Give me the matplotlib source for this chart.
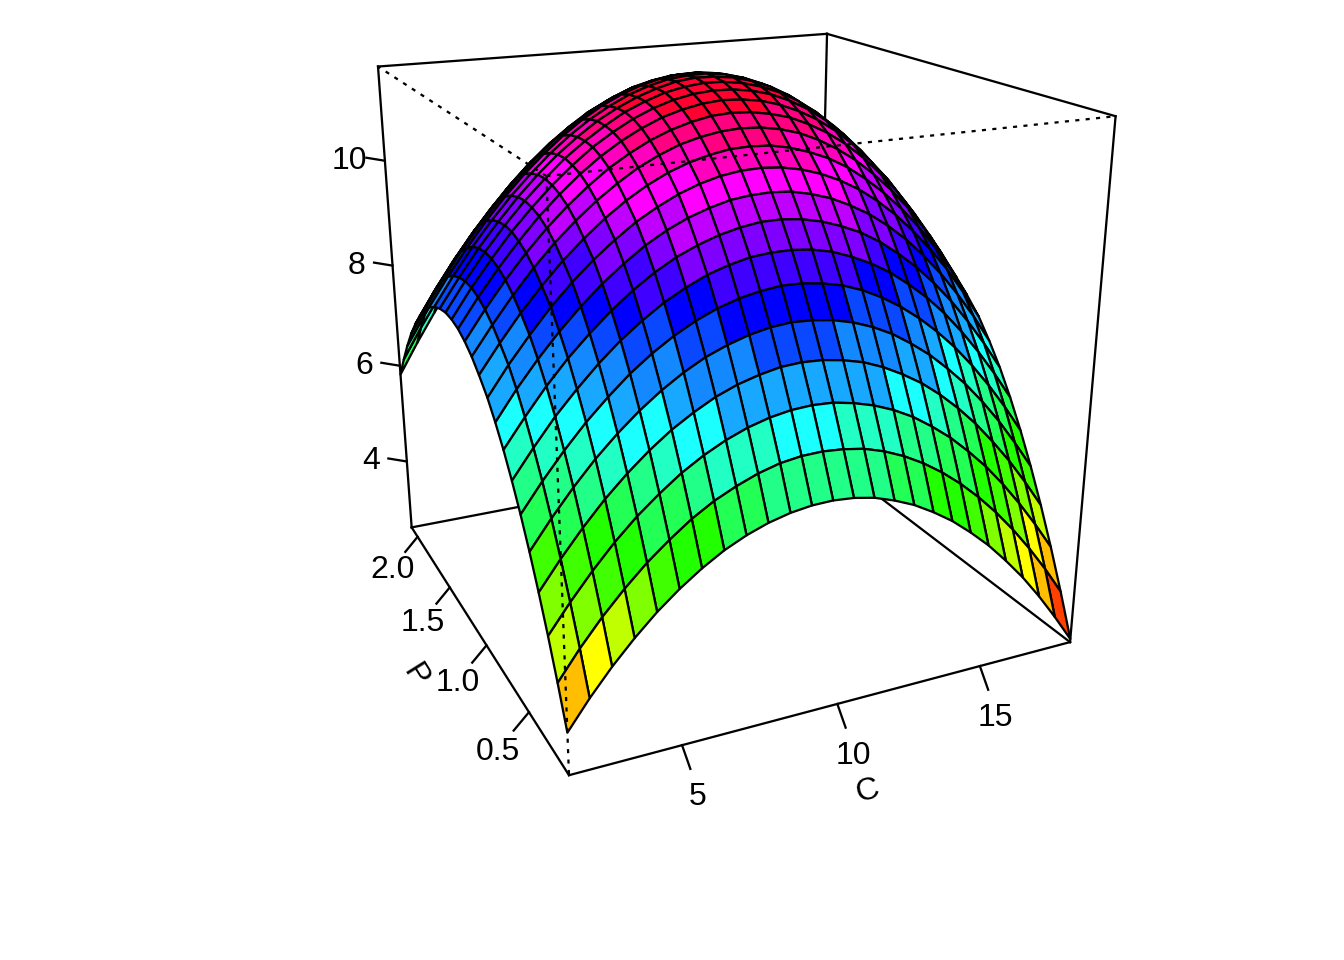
import numpy as np
import matplotlib
matplotlib.use("Agg")
import matplotlib.pyplot as plt
from matplotlib.collections import PolyCollection

plt.rcParams['font.family'] = ['Liberation Sans', 'DejaVu Sans']

C_values = [1.62, 2.29, 2.96, 3.63, 4.30, 4.97, 5.64, 6.31, 6.98, 7.65, 8.33, 9.00, 9.67,
            10.34, 11.01, 11.68, 12.35, 13.02, 13.69, 14.36, 15.03, 15.70, 16.37, 17.04, 17.71, 18.39]
P_values = [0.09, 0.17, 0.25, 0.33, 0.41, 0.49, 0.57, 0.65, 0.73, 0.81, 0.90, 0.98, 1.06,
            1.14, 1.22, 1.30, 1.38, 1.46, 1.54, 1.62, 1.70, 1.78, 1.86, 1.94, 2.02, 2.10]
# one row per C value, one column per P value
surface = [
    [3.31, 3.95, 4.55, 5.10, 5.61, 6.07, 6.48, 6.85, 7.17, 7.45, 7.69, 7.88, 8.02, 8.12, 8.17, 8.18, 8.14, 8.06, 7.94, 7.77, 7.55, 7.29, 6.99, 6.64, 6.25, 5.82],
    [3.80, 4.44, 5.03, 5.58, 6.09, 6.55, 6.96, 7.33, 7.66, 7.94, 8.17, 8.36, 8.51, 8.61, 8.67, 8.68, 8.64, 8.57, 8.45, 8.28, 8.08, 7.83, 7.54, 7.20, 6.83, 6.41],
    [4.24, 4.88, 5.47, 6.02, 6.53, 6.99, 7.41, 7.78, 8.10, 8.38, 8.62, 8.81, 8.96, 9.06, 9.12, 9.14, 9.11, 9.04, 8.92, 8.77, 8.57, 8.33, 8.05, 7.72, 7.36, 6.96],
    [4.63, 5.27, 5.87, 6.42, 6.93, 7.39, 7.80, 8.18, 8.50, 8.79, 9.02, 9.22, 9.37, 9.47, 9.54, 9.56, 9.53, 9.47, 9.36, 9.21, 9.02, 8.79, 8.52, 8.21, 7.86, 7.47],
    [4.98, 5.62, 6.22, 6.77, 7.28, 7.74, 8.16, 8.53, 8.86, 9.15, 9.39, 9.59, 9.74, 9.85, 9.91, 9.94, 9.92, 9.86, 9.76, 9.61, 9.43, 9.21, 8.95, 8.65, 8.32, 7.95],
    [5.28, 5.92, 6.52, 7.08, 7.59, 8.06, 8.48, 8.85, 9.18, 9.47, 9.71, 9.91, 10.07, 10.18, 10.25, 10.28, 10.27, 10.21, 10.12, 9.98, 9.81, 9.60, 9.35, 9.06, 8.74, 8.39],
    [5.54, 6.19, 6.79, 7.35, 7.86, 8.33, 8.75, 9.13, 9.46, 9.75, 10.00, 10.20, 10.36, 10.48, 10.55, 10.59, 10.58, 10.53, 10.44, 10.31, 10.15, 9.95, 9.71, 9.43, 9.13, 8.79],
    [5.76, 6.41, 7.01, 7.57, 8.09, 8.56, 8.99, 9.37, 9.71, 10.00, 10.25, 10.45, 10.62, 10.74, 10.82, 10.85, 10.85, 10.81, 10.73, 10.61, 10.45, 10.26, 10.03, 9.77, 9.47, 9.15],
    [5.93, 6.58, 7.19, 7.76, 8.28, 8.75, 9.18, 9.57, 9.91, 10.20, 10.46, 10.67, 10.83, 10.96, 11.04, 11.08, 11.09, 11.05, 10.98, 10.86, 10.71, 10.53, 10.31, 10.06, 9.78, 9.47],
    [6.06, 6.72, 7.33, 7.90, 8.42, 8.90, 9.34, 9.72, 10.07, 10.37, 10.63, 10.84, 11.01, 11.14, 11.23, 11.28, 11.28, 11.25, 11.19, 11.08, 10.94, 10.76, 10.56, 10.32, 10.05, 9.75],
    [6.15, 6.82, 7.43, 8.00, 8.53, 9.01, 9.45, 9.84, 10.19, 10.50, 10.76, 10.98, 11.15, 11.29, 11.38, 11.43, 11.44, 11.42, 11.36, 11.26, 11.12, 10.96, 10.76, 10.53, 10.27, 9.99],
    [6.20, 6.87, 7.49, 8.07, 8.60, 9.08, 9.53, 9.92, 10.28, 10.59, 10.85, 11.07, 11.25, 11.39, 11.49, 11.55, 11.56, 11.54, 11.49, 11.40, 11.27, 11.11, 10.92, 10.70, 10.45, 10.18],
    [6.21, 6.88, 7.51, 8.09, 8.63, 9.12, 9.56, 9.97, 10.32, 10.64, 10.91, 11.13, 11.32, 11.46, 11.56, 11.62, 11.65, 11.63, 11.58, 11.49, 11.37, 11.22, 11.04, 10.83, 10.59, 10.33],
    [6.18, 6.85, 7.49, 8.07, 8.61, 9.11, 9.56, 9.97, 10.33, 10.65, 10.92, 11.15, 11.34, 11.49, 11.59, 11.66, 11.69, 11.67, 11.63, 11.55, 11.43, 11.29, 11.11, 10.91, 10.68, 10.43],
    [6.11, 6.79, 7.42, 8.01, 8.56, 9.06, 9.52, 9.93, 10.30, 10.62, 10.90, 11.13, 11.32, 11.47, 11.58, 11.65, 11.68, 11.68, 11.64, 11.56, 11.45, 11.31, 11.14, 10.95, 10.72, 10.48],
    [5.99, 6.68, 7.32, 7.92, 8.47, 8.98, 9.44, 9.85, 10.22, 10.55, 10.83, 11.07, 11.26, 11.42, 11.53, 11.60, 11.64, 11.64, 11.60, 11.53, 11.42, 11.29, 11.12, 10.93, 10.72, 10.48],
    [5.84, 6.53, 7.18, 7.78, 8.34, 8.85, 9.31, 9.73, 10.11, 10.44, 10.72, 10.97, 11.17, 11.32, 11.44, 11.51, 11.55, 11.55, 11.51, 11.44, 11.34, 11.21, 11.05, 10.87, 10.66, 10.43],
    [5.64, 6.34, 7.00, 7.60, 8.17, 8.68, 9.15, 9.58, 9.95, 10.29, 10.58, 10.82, 11.02, 11.18, 11.30, 11.38, 11.42, 11.42, 11.38, 11.32, 11.22, 11.09, 10.93, 10.75, 10.54, 10.31],
    [5.41, 6.11, 6.77, 7.39, 7.95, 8.47, 8.95, 9.38, 9.76, 10.10, 10.39, 10.63, 10.84, 11.00, 11.12, 11.20, 11.24, 11.24, 11.20, 11.14, 11.04, 10.91, 10.75, 10.57, 10.37, 10.14],
    [5.13, 5.84, 6.51, 7.13, 7.70, 8.22, 8.70, 9.13, 9.52, 9.86, 10.15, 10.40, 10.61, 10.77, 10.89, 10.97, 11.00, 11.01, 10.97, 10.90, 10.80, 10.67, 10.52, 10.34, 10.13, 9.91],
    [4.82, 5.53, 6.20, 6.83, 7.40, 7.93, 8.42, 8.85, 9.24, 9.58, 9.87, 10.12, 10.33, 10.49, 10.61, 10.69, 10.72, 10.72, 10.69, 10.62, 10.51, 10.38, 10.22, 10.04, 9.83, 9.61],
    [4.46, 5.18, 5.86, 6.49, 7.07, 7.60, 8.09, 8.52, 8.91, 9.25, 9.55, 9.80, 10.00, 10.16, 10.28, 10.36, 10.39, 10.39, 10.35, 10.27, 10.17, 10.03, 9.86, 9.68, 9.46, 9.24],
    [4.07, 4.79, 5.47, 6.10, 6.69, 7.22, 7.71, 8.15, 8.54, 8.88, 9.18, 9.43, 9.63, 9.79, 9.90, 9.97, 10.00, 9.99, 9.95, 9.87, 9.76, 9.61, 9.44, 9.24, 9.03, 8.79],
    [3.63, 4.36, 5.04, 5.68, 6.27, 6.80, 7.29, 7.73, 8.12, 8.47, 8.76, 9.00, 9.20, 9.36, 9.47, 9.53, 9.56, 9.54, 9.49, 9.40, 9.28, 9.13, 8.95, 8.74, 8.52, 8.27],
    [3.15, 3.89, 4.57, 5.21, 5.80, 6.34, 6.83, 7.27, 7.66, 8.00, 8.29, 8.53, 8.73, 8.87, 8.98, 9.04, 9.05, 9.03, 8.97, 8.87, 8.74, 8.57, 8.38, 8.16, 7.92, 7.67],
    [2.63, 3.37, 4.06, 4.70, 5.29, 5.83, 6.32, 6.76, 7.14, 7.48, 7.77, 8.00, 8.19, 8.33, 8.43, 8.48, 8.48, 8.45, 8.38, 8.27, 8.12, 7.94, 7.74, 7.51, 7.25, 6.98],
]
C_ticks = [5, 10, 15]
P_ticks = [0.5, 1.0, 1.5, 2.0]
Z_ticks = [4, 6, 8, 10]
Z_lim = (2.57, 11.72)

palette = ["#FF0000", "#FF4000", "#FF8000", "#FFBF00", "#FFFF00", "#BFFF00", "#80FF00", "#40FF00",
           "#22FF00", "#22FF55", "#22FF88", "#22FFC4", "#1CFFFF", "#18A8FF", "#1488FF", "#0A48FF",
           "#0000FF", "#4000FF", "#8000FF", "#BF00FF", "#FF00FF", "#FF00BF", "#FF0080", "#FF0030"]

THETA, PHI, R_DIST, EXPAND = -24.97, 19.85, 4.055, 1.0
SCALE, X0, Y0 = 1576.3, 717.4, 348.8
LW = 0.85


def rot_x(a):
    c, s = np.cos(np.radians(a)), np.sin(np.radians(a))
    return np.array([[1, 0, 0, 0], [0, c, s, 0], [0, -s, c, 0], [0, 0, 0, 1]])


def rot_y(a):
    c, s = np.cos(np.radians(a)), np.sin(np.radians(a))
    return np.array([[c, 0, -s, 0], [0, 1, 0, 0], [s, 0, c, 0], [0, 0, 0, 1]])


# same view chain as R's persp
shift = np.eye(4)
shift[3, 2] = -R_DIST - 1
persp = np.eye(4)
persp[2, 3] = -1
view = np.diag([1, 1, EXPAND, 1]) @ rot_x(-90) @ rot_y(-THETA) @ rot_x(PHI) @ shift @ persp

C_min, C_max = min(C_values), max(C_values)
P_min, P_max = min(P_values), max(P_values)
Z_min, Z_max = Z_lim


def project(c, p, z):
    pt = np.array([2 * (c - C_min) / (C_max - C_min) - 1,
                   2 * (p - P_min) / (P_max - P_min) - 1,
                   2 * (z - Z_min) / (Z_max - Z_min) - 1, 1.0])
    o = pt @ view
    return o[0] / o[3], o[1] / o[3]


def line3d(ax, a, b, **kw):
    p, q = project(*a), project(*b)
    ax.plot([p[0], q[0]], [p[1], q[1]], color='black', lw=LW, **kw)


def tick(ax, base, dx, dy, label, lx=None, ly=None):
    # tick length and label gap are in output pixels, dy positive is downwards
    x, y = project(*base)
    ax.plot([x, x + dx / SCALE], [y, y - dy / SCALE], color='black', lw=LW, zorder=1)
    lx = 2 * dx if lx is None else lx
    ly = 2 * dy if ly is None else ly
    ax.text(x + lx / SCALE, y - ly / SCALE, label, fontsize=12, ha='center', va='center_baseline')


fig = plt.figure(figsize=(7, 5), dpi=192)
ax = fig.add_axes([0, 0, 1, 1])
ax.set_xlim(-X0 / SCALE, (1344 - X0) / SCALE)
ax.set_ylim((Y0 - 960) / SCALE, Y0 / SCALE)
ax.axis('off')

# back of the box, behind the surface
solid = [((C_min, P_max, Z_max), (C_max, P_max, Z_max)), ((C_max, P_max, Z_max), (C_max, P_min, Z_max)),
         ((C_min, P_max, Z_max), (C_min, P_max, Z_min)), ((C_max, P_min, Z_max), (C_max, P_min, Z_min)),
         ((C_max, P_max, Z_max), (C_max, P_max, Z_min)), ((C_min, P_max, Z_min), (C_max, P_max, Z_min)),
         ((C_max, P_min, Z_min), (C_max, P_max, Z_min)), ((C_min, P_min, Z_min), (C_max, P_min, Z_min)),
         ((C_min, P_min, Z_min), (C_min, P_max, Z_min))]
for a, b in solid:
    line3d(ax, a, b, zorder=1)

# facets from the far corner to the near corner
zz = np.array(surface)
polys, colors = [], []
for i in range(len(C_values) - 2, -1, -1):
    for j in range(len(P_values) - 2, -1, -1):
        cell = [(i, j), (i + 1, j), (i + 1, j + 1), (i, j + 1)]
        polys.append([project(C_values[a], P_values[b], zz[a, b]) for a, b in cell])
        mean_z = np.mean([zz[a, b] for a, b in cell])
        k = int((mean_z - Z_min) / (Z_max - Z_min) * len(palette))
        colors.append(palette[min(k, len(palette) - 1)])
ax.add_collection(PolyCollection(polys, facecolors=colors, edgecolors='black', linewidths=LW, zorder=2))

# front edges of the box are dotted, over the surface
for b in [(C_min, P_max, Z_max), (C_max, P_min, Z_max), (C_min, P_min, Z_min)]:
    line3d(ax, (C_min, P_min, Z_max), b, zorder=3, ls=(0, (1.8, 2.8)))

for c in C_ticks:
    tick(ax, (c, P_min, Z_min), 8.3, 23.7, str(c), lx=16, ly=48.5)
for p in P_ticks:
    tick(ax, (C_min, p, Z_min), -16.3 + 2.0 * p, 19.5 - 2.2 * p, '%.1f' % p)
for z in Z_ticks:
    tick(ax, (C_min, P_max, z), -18.5, -3, str(z), lx=-36, ly=-3.5)

x, y = project(10, P_min, Z_min)
ax.text(x + 29.3 / SCALE, y - 83.7 / SCALE, 'C', fontsize=12, ha='center', va='center_baseline', rotation=15,
        rotation_mode='anchor')
x, y = project(C_min, 1.0, Z_min)
ax.text(x - 68.5 / SCALE, y - 29 / SCALE, 'P', fontsize=12, ha='center', va='center_baseline', rotation=-58,
        rotation_mode='anchor')

fig.savefig('out.png')
